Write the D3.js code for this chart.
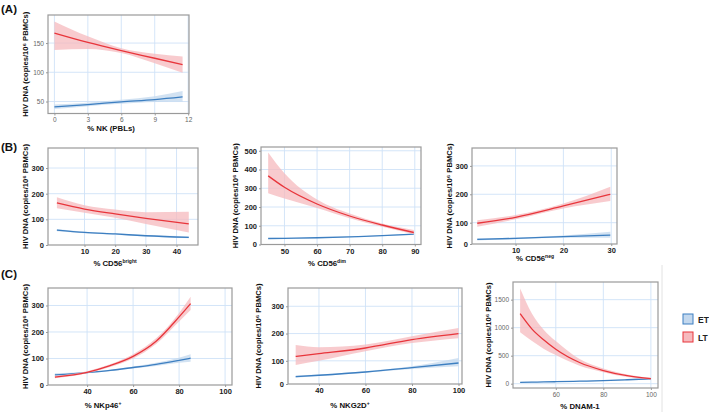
<!DOCTYPE html>
<html><head><meta charset="utf-8">
<script src="https://cdn.jsdelivr.net/npm/d3@7"></script>
<style>
body{margin:0;background:#fff}
text{font-family:"Liberation Sans",Arial,sans-serif}
</style>
</head><body>
<svg id="c" width="709" height="412"></svg>
<script>
// ---------------- DATA ----------------
const seriesNames = ["ET", "LT"];
const yTitle = "HIV DNA (copies/10⁶ PBMCs)";

// (A) % NK (PBLs)
const aX = [0, 3, 6, 9, 11.5];
const aET = [40.7, 44.8, 49.4, 53.4, 58], aETlo = [37, 42, 46, 49, 49.4], aEThi = [45, 48, 53, 59, 68];
const aLT = [167, 151, 137, 124, 113], aLTlo = [138, 140, 133, 115.5, 99], aLThi = [187, 161.5, 141, 131.6, 127];
const aXTicks = [0, 3, 6, 9, 12], aYTicks = [50, 100, 150];

// (B) % CD56bright
const b1X = [1, 10, 20, 30, 44];
const b1ET = [58, 49, 43, 36, 30], b1ETlo = [54, 46, 40, 33, 26], b1EThi = [62, 52, 46, 39, 34];
const b1LT = [164, 140, 121, 104, 82], b1LTlo = [143, 126, 106, 82, 49], b1LThi = [186, 155, 138, 128, 130];
const b1XTicks = [10, 20, 30, 40], b1YTicks = [0, 100, 200, 300];

// (B) % CD56dim
const b2X = [45, 50, 60, 70, 80, 89.7];
const b2ET = [32, 33, 36, 41, 47, 55], b2ETlo = [29, 31, 34, 39, 45, 51], b2EThi = [35, 36, 38, 43, 50, 59];
const b2LT = [366, 305, 216, 152, 104, 64], b2LTlo = [273, 245, 195, 140, 95, 55], b2LThi = [491, 380, 240, 165, 112, 77];
const b2XTicks = [50, 60, 70, 80, 90], b2YTicks = [0, 100, 200, 300, 400, 500];

// (B) % CD56neg
const b3X = [2, 10, 20, 29.8];
const b3ET = [41, 45, 51, 56], b3ETlo = [37, 42, 47, 47], b3EThi = [45, 48, 55, 68];
const b3LT = [98, 119, 159, 200], b3LTlo = [86, 112, 150, 176], b3LThi = [109, 127, 168, 227];
const b3XTicks = [10, 20, 30], b3YTicks = [100, 200, 300];

// (C) % NKp46+
const c1X = [26, 40, 50, 60, 70, 80, 85];
const c1ET = [38, 47, 55, 66, 78, 93, 101], c1ETlo = [33, 44, 52, 62, 72, 84, 88], c1EThi = [44, 50, 58, 70, 84, 103, 116];
const c1LT = [30, 48, 73, 108, 165, 257, 307], c1LTlo = [25, 44, 68, 100, 155, 240, 283], c1LThi = [35, 52, 78, 116, 176, 272, 333];
const c1XTicks = [40, 60, 80, 100], c1YTicks = [0, 100, 200, 300];

// (C) % NKG2D+
const c2X = [30, 40, 60, 80, 100];
const c2ET = [42, 47, 59, 75, 92], c2ETlo = [38, 44, 56, 70, 80], c2EThi = [46, 50, 62, 80, 110];
const c2LT = [116, 126, 147, 178, 200], c2LTlo = [85, 100, 135, 165, 183], c2LThi = [158, 150, 160, 190, 220];
const c2XTicks = [40, 60, 80, 100], c2YTicks = [100, 200, 300];

// (C) % DNAM-1
const c3X = [45, 50, 55, 60, 70, 80, 90, 100];
const c3ET = [25, 28, 31, 35, 44, 55, 70, 88], c3ETlo = [18, 22, 26, 30, 40, 50, 62, 76], c3EThi = [32, 34, 36, 40, 48, 60, 78, 100];
const c3LT = [1250, 975, 780, 615, 378, 235, 142, 89], c3LTlo = [920, 760, 620, 510, 320, 205, 120, 75], c3LThi = [1700, 1250, 960, 760, 440, 270, 165, 105];
const c3XTicks = [60, 80, 100], c3YTicks = [0, 500, 1000, 1500];

// ---------------- PANELS (layout) ----------------
const panels = [
  {x: aX, et: [aET, aETlo, aEThi], lt: [aLT, aLTlo, aLThi], xt: aXTicks, yt: aYTicks,
   box: [48, 15, 189, 113.5], xd: [-0.575, 12.075], yd: [29.5, 198],
   xTitle: ["% NK (PBLs)", ""], xtx: 111, xty: 131, ytx: 25, light: true, zeroAt: null},
  {x: b1X, et: [b1ET, b1ETlo, b1EThi], lt: [b1LT, b1LTlo, b1LThi], xt: b1XTicks, yt: b1YTicks,
   box: [48, 148, 198, 245], xd: [-1.9, 47], yd: [0, 378],
   xTitle: ["% CD56", "bright"], xtx: 115, xty: 266, ytx: 25},
  {x: b2X, et: [b2ET, b2ETlo, b2EThi], lt: [b2LT, b2LTlo, b2LThi], xt: b2XTicks, yt: b2YTicks,
   box: [261, 147, 421, 244.5], xd: [42.8, 91.9], yd: [0, 520],
   xTitle: ["% CD56", "dim"], xtx: 327, xty: 266, ytx: 235},
  {x: b3X, et: [b3ET, b3ETlo, b3EThi], lt: [b3LT, b3LTlo, b3LThi], xt: b3XTicks, yt: b3YTicks,
   box: [472, 148, 617, 244], xd: [0.9, 31.2], yd: [25, 363],
   xTitle: ["% CD56", "neg"], xtx: 535, xty: 261, ytx: 449, zeroAt: true},
  {x: c1X, et: [c1ET, c1ETlo, c1EThi], lt: [c1LT, c1LTlo, c1LThi], xt: c1XTicks, yt: c1YTicks,
   box: [48, 288, 232, 385], xd: [23, 103], yd: [0, 366],
   xTitle: ["% NKp46", "+"], xtx: 103, xty: 408, ytx: 25},
  {x: c2X, et: [c2ET, c2ETlo, c2EThi], lt: [c2LT, c2LTlo, c2LThi], xt: c2XTicks, yt: c2YTicks,
   box: [288, 288, 462, 384], xd: [26.7, 101.5], yd: [15, 367],
   xTitle: ["% NKG2D", "+"], xtx: 350, xty: 408, ytx: 258, zeroAt: true},
  {x: c3X, et: [c3ET, c3ETlo, c3EThi], lt: [c3LT, c3LTlo, c3LThi], xt: c3XTicks, yt: c3YTicks,
   box: [513, 282, 658, 388], xd: [42, 103], yd: [-77, 1815],
   xTitle: ["% DNAM-1", ""], xtx: 580, xty: 409, ytx: 488, light: true}
];

const colors = {ET: {line: "#3d7fc1", fill: "#c3d8ee"}, LT: {line: "#e8353b", fill: "#f6b9bd"}};
const svg = d3.select("#c");

// panel letters
[["(A)", 12.5], ["(B)", 151], ["(C)", 278]].forEach(([t, y]) => {
  svg.append("text").attr("x", 1).attr("y", y).attr("font-size", 11.5).attr("font-weight", "bold").attr("fill", "#111").text(t);
});

// faint divider
svg.append("line").attr("x1", 662).attr("x2", 662).attr("y1", 265).attr("y2", 412).attr("stroke", "#e2e2e2").attr("stroke-width", 1);

panels.forEach(p => {
  const [l, t, r, b] = p.box;
  const x = d3.scaleLinear().domain(p.xd).range([l, r]);
  const y = d3.scaleLinear().domain(p.yd).range([b, t]);
  const g = svg.append("g");
  // grid
  g.selectAll(".gx").data(p.xt.filter(v => v > p.xd[0] && v < p.xd[1])).join("line")
    .attr("x1", d => x(d)).attr("x2", d => x(d)).attr("y1", t).attr("y2", b)
    .attr("stroke", "#cfe2f7").attr("stroke-width", 0.9);
  g.selectAll(".gy").data(p.yt.filter(v => v > p.yd[0] && v < p.yd[1])).join("line")
    .attr("x1", l).attr("x2", r).attr("y1", d => y(d)).attr("y2", d => y(d))
    .attr("stroke", "#cfe2f7").attr("stroke-width", 0.9);
  // series
  [["ET", p.et], ["LT", p.lt]].forEach(([name, s]) => {
    const pts = p.x.map((xv, i) => ({x: xv, f: s[0][i], lo: s[1][i], hi: s[2][i]}));
    g.append("path").datum(pts)
      .attr("d", d3.area().curve(d3.curveMonotoneX).x(d => x(d.x)).y0(d => y(d.lo)).y1(d => y(d.hi)))
      .attr("fill", colors[name].fill).attr("fill-opacity", 0.75);
    g.append("path").datum(pts)
      .attr("d", d3.line().curve(d3.curveMonotoneX).x(d => x(d.x)).y(d => y(d.f)))
      .attr("fill", "none").attr("stroke", colors[name].line).attr("stroke-width", 1.3);
  });
  // frame
  g.append("rect").attr("x", l).attr("y", t).attr("width", r - l).attr("height", b - t)
    .attr("fill", "none").attr("stroke", "#9a9a9a").attr("stroke-width", 1.2);
  const tickCol = p.light ? "#666" : "#222";
  const fw = p.light ? "normal" : "bold";
  const fs = p.light ? 6.5 : 7.5;
  // axes
  const ytv = p.zeroAt ? [p.yd[0]].concat(p.yt) : p.yt;
  const ya = g.append("g").attr("transform", `translate(${l},0)`)
    .call(d3.axisLeft(y).tickValues(ytv).tickSize(2).tickPadding(2)
      .tickFormat(d => (p.zeroAt && d === p.yd[0]) ? "0" : d));
  const xa = g.append("g").attr("transform", `translate(0,${b})`)
    .call(d3.axisBottom(x).tickValues(p.xt).tickSize(2).tickPadding(2));
  [ya, xa].forEach(a => {
    a.select(".domain").remove();
    a.selectAll("line").attr("stroke", "#999");
    a.selectAll("text").attr("font-size", fs).attr("font-weight", fw).attr("fill", tickCol)
      .attr("font-family", "'Liberation Sans',Arial,sans-serif");
  });
  // y title
  svg.append("text").attr("transform", `translate(${p.ytx},${(t + b) / 2}) rotate(-90)`)
    .attr("text-anchor", "middle").attr("dy", "0.35em").attr("font-size", 7.6).attr("font-weight", "bold")
    .attr("fill", "#111").text(yTitle);
  // x title
  const xt = svg.append("text").attr("x", p.xtx).attr("y", p.xty).attr("text-anchor", "middle")
    .attr("font-size", 7.8).attr("font-weight", "bold").attr("fill", "#111");
  xt.append("tspan").text(p.xTitle[0]);
  if (p.xTitle[1]) xt.append("tspan").attr("font-size", 5).attr("dy", -3).text(p.xTitle[1]);
});

// legend
seriesNames.forEach((n, i) => {
  const yy = 314 + i * 18;
  svg.append("rect").attr("x", 683).attr("y", yy).attr("width", 10).attr("height", 10)
    .attr("fill", colors[n].fill).attr("stroke", colors[n].line).attr("stroke-width", 1);
  svg.append("text").attr("x", 698).attr("y", yy + 8.5).attr("font-size", 8.5).attr("font-weight", "bold")
    .attr("fill", "#222").text(n);
});
</script>
</body></html>
